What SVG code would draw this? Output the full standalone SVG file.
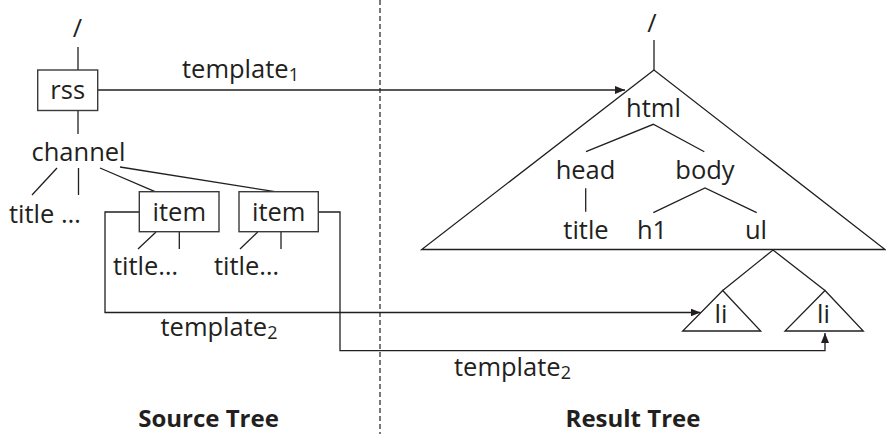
<svg xmlns="http://www.w3.org/2000/svg" width="886" height="434" viewBox="0 0 886 434">
<style>
text{font-family:"Open Sans","Noto Sans","Liberation Sans",sans-serif;font-size:25.5px;fill:#231f20}
.c{text-anchor:middle}
.b{font-weight:bold;font-size:24px}
.sub{font-size:18px}
.ln{stroke:#231f20;stroke-width:1.3;fill:none}
.box{stroke:#3a3a3a;stroke-width:1.4;fill:#fff}
.tri{stroke:#231f20;stroke-width:1.3;fill:none;stroke-linejoin:miter}
</style>
<defs>
<marker id="ah" viewBox="0 0 10 8" refX="10" refY="4" markerWidth="10" markerHeight="8" markerUnits="userSpaceOnUse" orient="auto">
<path d="M0,0 L10,4 L0,8 Z" fill="#231f20"/>
</marker>
</defs>
<rect width="886" height="434" fill="#fff"/>
<line x1="380" y1="0" x2="380" y2="434" stroke="#231f20" stroke-width="1.2" stroke-dasharray="5,3"/>

<g id="edges">
<line class="ln" x1="78" y1="47" x2="78" y2="70"/>
<line class="ln" x1="78" y1="111" x2="78" y2="134"/>
<line class="ln" x1="57" y1="168" x2="32" y2="195"/>
<line class="ln" x1="78.5" y1="168" x2="78.5" y2="195"/>
<line class="ln" x1="100" y1="168" x2="155" y2="191.7"/>
<line class="ln" x1="120" y1="167" x2="275" y2="191.7"/>
<line class="ln" x1="156" y1="232" x2="138" y2="249"/>
<line class="ln" x1="179.3" y1="232" x2="179.3" y2="249"/>
<line class="ln" x1="257.7" y1="232" x2="240" y2="249"/>
<line class="ln" x1="281" y1="232" x2="281" y2="249"/>
<line class="ln" x1="654" y1="40" x2="654" y2="70"/>
<polyline class="ln" points="586,151.7 653.3,124.3 704.3,151.7"/>
<line class="ln" x1="585.7" y1="188.3" x2="585.7" y2="211.7"/>
<polyline class="ln" points="653.3,212.7 705,188 756.7,212.7"/>
<polyline class="ln" points="722.7,290.5 773,250 825,290.5"/>
<line class="ln" x1="98" y1="90" x2="625" y2="90" marker-end="url(#ah)"/>
<polyline class="ln" points="139.3,212 105,212 105,312.5 700.5,312.5" marker-end="url(#ah)"/>
<polyline class="ln" points="318.3,212 340,212 340,350.7 825,350.7 825,333" marker-end="url(#ah)"/>
</g>

<g id="labels">
<text x="182" y="78">template<tspan class="sub" dy="3">1</tspan></text>
<text x="160.5" y="336">template<tspan class="sub" dy="3">2</tspan></text>
<text x="454" y="376">template<tspan class="sub" dy="3">2</tspan></text>
<text class="c b" x="208.5" y="427">Source Tree</text>
<text class="c b" x="633" y="427">Result Tree</text>
</g>

<g id="src-root"><text class="c" x="77.5" y="37">/</text></g>
<g id="rss"><rect class="box" x="37.7" y="70" width="60" height="40.5"/><text class="c" x="67.7" y="99">rss</text></g>
<g id="channel"><text class="c" x="78.5" y="161">channel</text></g>
<g id="channel-title"><text x="9" y="223">title …</text></g>
<g id="item1"><rect class="box" x="139.3" y="191.7" width="79.7" height="40"/><text class="c" x="179.3" y="221">item</text></g>
<g id="item2"><rect class="box" x="239" y="191.7" width="79.3" height="40"/><text class="c" x="278.7" y="221">item</text></g>
<g id="item1-title"><text x="113" y="275">title…</text></g>
<g id="item2-title"><text x="214" y="275">title…</text></g>

<g id="res-root"><text class="c" x="652" y="32">/</text></g>
<g id="result-triangle"><polygon class="tri" points="654,70 421.7,249.5 885,249.5"/></g>
<g id="html"><text class="c" x="653.5" y="117">html</text></g>
<g id="head"><text class="c" x="585.5" y="179">head</text></g>
<g id="body"><text class="c" x="705" y="179">body</text></g>
<g id="title"><text class="c" x="586" y="239">title</text></g>
<g id="h1"><text class="c" x="652" y="239">h1</text></g>
<g id="ul"><text class="c" x="756" y="239">ul</text></g>
<g id="li1"><polygon class="tri" points="722.7,290.5 682.7,331 760.7,331"/><text class="c" x="721" y="322.5">li</text></g>
<g id="li2"><polygon class="tri" points="825,290.5 785,331 863.3,331"/><text class="c" x="823.5" y="322.5">li</text></g>
</svg>
